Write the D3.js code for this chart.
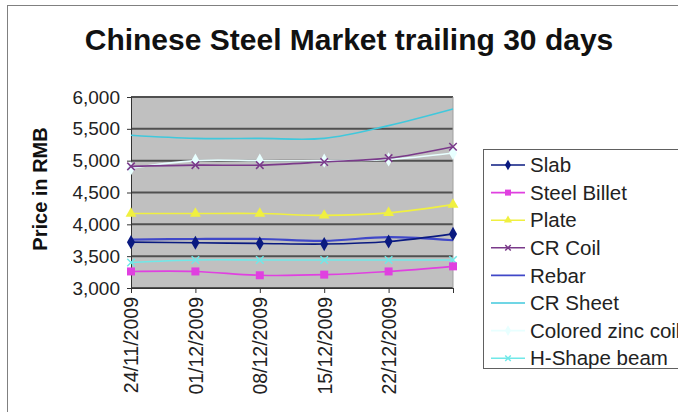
<!DOCTYPE html>
<html><head><meta charset="utf-8">
<script src="https://cdn.jsdelivr.net/npm/d3@7"></script>
<style>html,body{margin:0;padding:0;background:#fff;}svg{display:block;font-family:"Liberation Sans",Arial,sans-serif;}</style>
</head><body>
<svg id="c" width="678" height="412"></svg>
<script>
const dates = ["24/11/2009","01/12/2009","08/12/2009","15/12/2009","22/12/2009","29/12/2009"];
const tickLabels = ["24/11/2009","01/12/2009","08/12/2009","15/12/2009","22/12/2009",""];
const yTicks = [3000,3500,4000,4500,5000,5500,6000];
const seriesNames = ["Slab","Steel Billet","Plate","CR Coil","Rebar","CR Sheet","Colored zinc coil","H-Shape beam"];
const slab = [3720,3710,3700,3690,3730,3850];
const steelBillet = [3260,3260,3200,3210,3260,3340];
const plate = [4170,4170,4170,4140,4180,4310];
const crCoil = [4910,4930,4930,4980,5040,5220];
const rebar = [3760,3770,3770,3740,3800,3750];
const crSheet = [5400,5350,5350,5350,5550,5810];
const coloredZinc = [4880,5000,5000,5000,5020,5120];
const hShape = [3400,3440,3440,3440,3440,3440];
const seriesValues = [slab,steelBillet,plate,crCoil,rebar,crSheet,coloredZinc,hShape];
const colors = ["#0a1a80","#e040e0","#f0f040","#7a3a8a","#4048c8","#40c8dc","#e8ffff","#70e8e8"];
const markers = ["diamond","square","triangle","star","none","none","diamond","cross"];

const svg = d3.select("#c");
const L=131, R=453, T=97, B=288;
svg.append("rect").attr("x",7.5).attr("y",5.5).attr("width",700).attr("height",420)
  .attr("fill","none").attr("stroke","#808080").attr("stroke-width",1);
svg.append("text").attr("x",349).attr("y",50).attr("text-anchor","middle")
  .attr("font-size",30).attr("font-weight","bold").attr("fill","#111")
  .text("Chinese Steel Market trailing 30 days");

const x = d3.scalePoint().domain(dates).range([L,R]);
const y = d3.scaleLinear().domain([3000,6000]).range([B,T]);

svg.append("rect").attr("x",L).attr("y",T).attr("width",R-L).attr("height",B-T).attr("fill","#c0c0c0");
svg.append("g").selectAll("line").data(yTicks).join("line")
  .attr("x1",L).attr("x2",R).attr("y1",d=>y(d)).attr("y2",d=>y(d))
  .attr("stroke","#505050").attr("stroke-width",2);
svg.append("line").attr("x1",R).attr("x2",R).attr("y1",T).attr("y2",B).attr("stroke","#a0a0a0");

const yAxis = svg.append("g").attr("transform",`translate(${L},0)`)
  .call(d3.axisLeft(y).tickValues(yTicks).tickSize(4).tickFormat(d3.format(",")));
yAxis.select(".domain").attr("stroke","#333");
yAxis.selectAll("line").attr("stroke","#333");
yAxis.selectAll("text").attr("font-size",19).attr("fill","#222").attr("font-family","Liberation Sans, Arial").attr("dx","-4");

const xAxis = svg.append("g").attr("transform",`translate(0,${B})`)
  .call(d3.axisBottom(x).tickSize(5).tickFormat((d,i)=>tickLabels[i]));
xAxis.select(".domain").attr("stroke","#333");
xAxis.selectAll("line").attr("stroke","#333");
xAxis.selectAll("text").attr("font-size",19.5).attr("fill","#222").attr("font-family","Liberation Sans, Arial")
  .attr("transform","rotate(-90)").attr("text-anchor","end").attr("x",-9).attr("y",0).attr("dy","0.35em");

svg.append("text").attr("transform","translate(47,189) rotate(-90)").attr("text-anchor","middle")
  .attr("font-size",20).attr("font-weight","bold").attr("fill","#111").text("Price in RMB");

const line = d3.line().x((d,i)=>x(dates[i])).y(d=>y(d)).curve(d3.curveCatmullRom.alpha(0.5));

function marker(g, type, color, size){
  if(type==="diamond") g.append("path").attr("d",d3.symbol(d3.symbolDiamond, size*size*0.9)()).attr("fill",color);
  else if(type==="square") g.append("rect").attr("x",-size/2).attr("y",-size/2).attr("width",size).attr("height",size).attr("fill",color);
  else if(type==="triangle") g.append("path").attr("d",d3.symbol(d3.symbolTriangle, size*size*0.8)()).attr("fill",color);
  else if(type==="star" || type==="cross") g.append("path").attr("d",d3.symbol(d3.symbolTimes, size*size*0.6)()).attr("stroke",color).attr("stroke-width",1.5).attr("fill","none");
}

const drawOrder = [6,7,5,3,2,1,4,0];
drawOrder.forEach(si=>{
  const vals = seriesValues[si];
  svg.append("path").datum(vals).attr("d",line).attr("fill","none")
    .attr("stroke",colors[si]).attr("stroke-width", si===4?2.2:1.6);
  if(markers[si]!=="none"){
    vals.forEach((v,i)=>{
      const g = svg.append("g").attr("transform",`translate(${x(dates[i])},${y(v)})`);
      marker(g, markers[si], colors[si], 8);
    });
  }
});

const lg = svg.append("g");
lg.append("rect").attr("x",483.5).attr("y",149.5).attr("width",240).attr("height",219)
  .attr("fill","#fff").attr("stroke","#606060").attr("stroke-width",1);
seriesNames.forEach((n,i)=>{
  const yy = 165 + i*27.6;
  const g = lg.append("g");
  g.append("line").attr("x1",491).attr("x2",525).attr("y1",yy).attr("y2",yy).attr("stroke",colors[i]).attr("stroke-width",1.6);
  if(markers[i]!=="none"){
    const mg = g.append("g").attr("transform",`translate(508,${yy})`);
    marker(mg, markers[i], colors[i], 6);
  }
  g.append("text").attr("x",530).attr("y",yy).attr("dy","0.35em").attr("font-size",20.5).attr("fill","#222").text(n);
});
</script>
</body></html>
